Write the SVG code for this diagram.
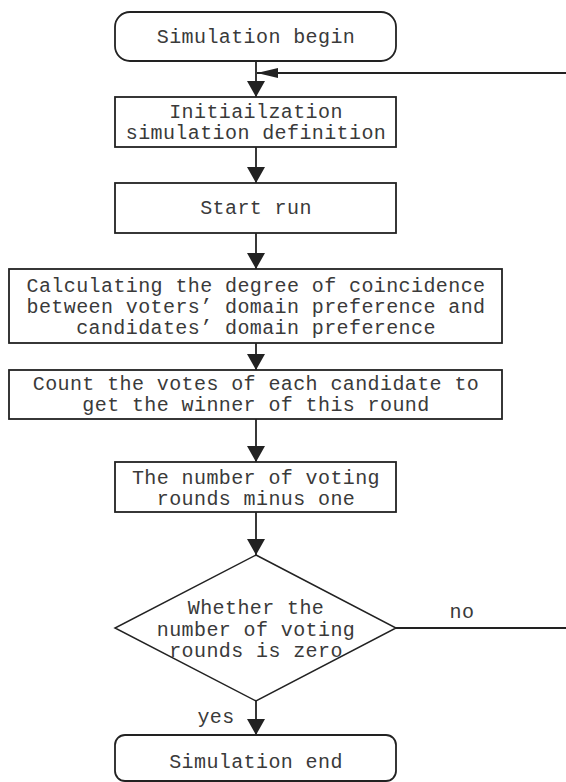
<svg xmlns="http://www.w3.org/2000/svg" width="566" height="782" viewBox="0 0 566 782">
<style>
.box{fill:#fff;stroke:#222;stroke-width:1.8}
.dia{fill:#fff;stroke:#222;stroke-width:1.5}
.t{font-family:"Liberation Mono","DejaVu Sans Mono",monospace;font-size:20px;fill:#3a3a3a;text-anchor:middle;dominant-baseline:central;letter-spacing:0.4px}
.c{fill:none;stroke:#222;stroke-width:1.8}
</style>
<defs>
<marker id="ah" markerUnits="userSpaceOnUse" markerWidth="16" markerHeight="18" refX="16" refY="9" orient="auto">
<path d="M0,0 L16,9 L0,18 z" fill="#222"/>
</marker>
<marker id="ahs" markerUnits="userSpaceOnUse" markerWidth="21" markerHeight="10" refX="21" refY="5" orient="auto">
<path d="M0,0 L21,5 L0,10 z" fill="#222"/>
</marker>
</defs>
<rect width="566" height="782" fill="#fff"/>
<g id="connectors">
<line class="c" x1="256" y1="61" x2="256" y2="97" marker-end="url(#ah)"/>
<line class="c" x1="566" y1="73" x2="257" y2="73" marker-end="url(#ahs)"/>
<line class="c" x1="256" y1="147" x2="256" y2="183" marker-end="url(#ah)"/>
<line class="c" x1="256" y1="233" x2="256" y2="269" marker-end="url(#ah)"/>
<line class="c" x1="256" y1="343" x2="256" y2="370" marker-end="url(#ah)"/>
<line class="c" x1="256" y1="419" x2="256" y2="462" marker-end="url(#ah)"/>
<line class="c" x1="256" y1="512" x2="256" y2="555" marker-end="url(#ah)"/>
<line class="c" x1="256" y1="701" x2="256" y2="735" marker-end="url(#ah)"/>
<line class="c" x1="396" y1="628" x2="566" y2="628"/>
<text class="t" x="462" y="612">no</text>
<text class="t" x="216" y="717">yes</text>
</g>
<g id="begin">
<rect class="box" x="115" y="12" width="281" height="49" rx="15"/>
<text class="t" x="256" y="37">Simulation begin</text>
</g>
<g id="init">
<rect class="box" x="115" y="97" width="281" height="50"/>
<text class="t" x="256" y="112">Initiailzation</text>
<text class="t" x="256" y="133">simulation definition</text>
</g>
<g id="start">
<rect class="box" x="115" y="183" width="281" height="50"/>
<text class="t" x="256" y="208">Start run</text>
</g>
<g id="calc">
<rect class="box" x="9" y="269" width="493" height="74"/>
<text class="t" x="256" y="286">Calculating the degree of coincidence</text>
<text class="t" x="256" y="307">between voters’ domain preference and</text>
<text class="t" x="256" y="328">candidates’ domain preference</text>
</g>
<g id="count">
<rect class="box" x="9" y="370" width="493" height="49"/>
<text class="t" x="256" y="384">Count the votes of each candidate to</text>
<text class="t" x="256" y="405">get the winner of this round</text>
</g>
<g id="minus">
<rect class="box" x="115" y="462" width="281" height="50"/>
<text class="t" x="256" y="478">The number of voting</text>
<text class="t" x="256" y="499">rounds minus one</text>
</g>
<g id="decision">
<polygon class="dia" points="256,555 396,628 256,701 115,628"/>
<text class="t" x="256" y="608">Whether the</text>
<text class="t" x="256" y="630">number of voting</text>
<text class="t" x="256" y="651">rounds is zero</text>
</g>
<g id="end">
<rect class="box" x="115" y="735" width="281" height="46" rx="10"/>
<text class="t" x="256" y="762">Simulation end</text>
</g>
</svg>
